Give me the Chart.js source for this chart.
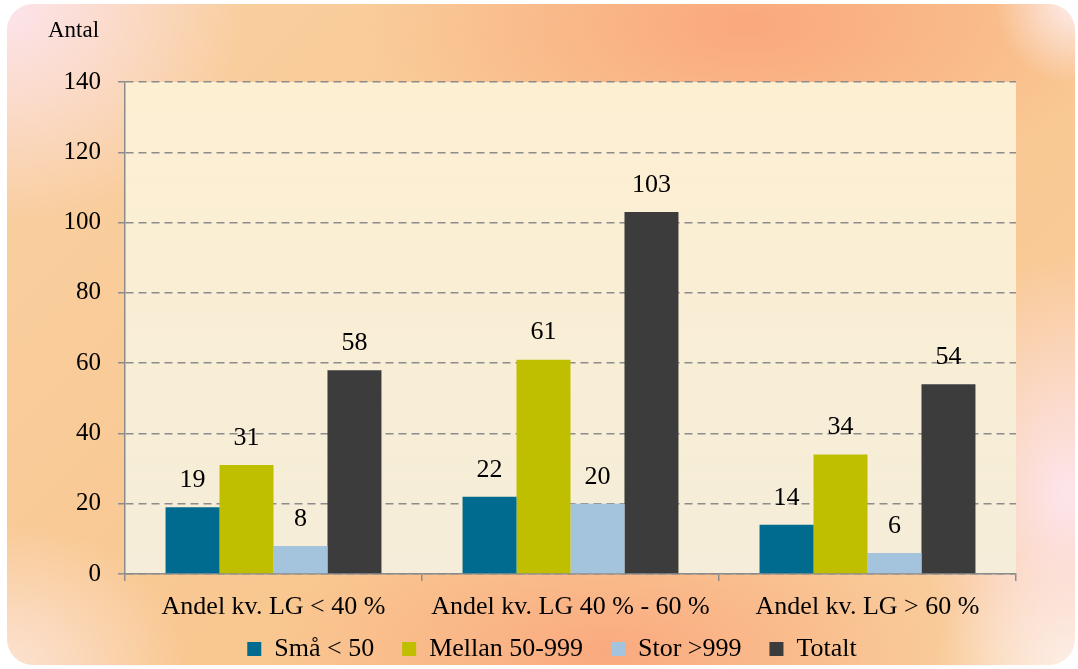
<!DOCTYPE html>
<html lang="sv">
<head>
  <meta charset="UTF-8">
  <title>Antal per andel kv. LG</title>
  <script src="https://cdn.jsdelivr.net/npm/chart.js"></script>
  <style>
    html, body { margin: 0; padding: 0; background: #fff; }
    body { width: 1078px; height: 669px; position: relative; overflow: hidden; }
    .card {
      position: absolute; left: 7px; top: 4px; width: 1068px; height: 661px;
      border-radius: 26px;
      background:
        radial-gradient(ellipse 150px 240px at 1060px 490px, rgba(253,230,240,0.95), rgba(253,230,240,0) 100%),
        radial-gradient(ellipse 80px 80px at 1068px 0px, rgba(253,236,236,1), rgba(253,236,236,0) 100%),
        radial-gradient(ellipse 140px 120px at 1068px 661px, rgba(253,243,228,1), rgba(253,243,228,0) 100%),
        radial-gradient(ellipse 240px 220px at 0px 0px, rgba(252,228,236,1), rgba(252,228,236,0) 100%),
        radial-gradient(ellipse 180px 140px at 0px 661px, rgba(252,226,210,1), rgba(252,226,210,0) 100%),
        radial-gradient(ellipse 380px 170px at 740px 20px, rgba(250,166,124,0.95), rgba(250,166,124,0) 100%),
        radial-gradient(ellipse 340px 150px at 600px 650px, rgba(250,168,126,0.95), rgba(250,168,126,0) 100%),
        linear-gradient(135deg, #f9d0a2 0%, #f9c790 50%, #f9cc9c 100%);
    }
    canvas { position: absolute; left: 0; top: 0; }
  </style>
</head>
<body>
  <div class="card"></div>
  <canvas id="chart" width="1078" height="669"></canvas>

  <script>
    const categories = ['Andel kv. LG < 40 %', 'Andel kv. LG 40 % - 60 %', 'Andel kv. LG > 60 %'];
    const seriesNames = ['Små < 50', 'Mellan 50-999', 'Stor >999', 'Totalt'];
    const smaValues = [19, 22, 14];
    const mellanValues = [31, 61, 34];
    const storValues = [8, 20, 6];
    const totaltValues = [58, 103, 54];
    const yTicks = [0, 20, 40, 60, 80, 100, 120, 140];
    const yTitle = 'Antal';

    const serif = 'Liberation Serif, Times New Roman, serif';
    const gridGrey = '#8c8c8c';

    // plot area fill, "Antal" label, legend nudged like the original
    const plotBackground = {
      id: 'plotBackground',
      afterLayout(chart) {
        if (chart.legend) {
          chart.legend.left += 44;
          chart.legend.right += 44;
          chart.legend.top += 3;
          chart.legend.bottom += 3;
        }
        // x labels sit below the short axis box, don't clip them
        chart.scales.x.bottom = chart.height;
      },
      beforeDraw(chart) {
        const { ctx, chartArea: a } = chart;
        const g = ctx.createLinearGradient(0, a.top, 0, a.bottom);
        g.addColorStop(0, '#fdefd2');
        g.addColorStop(1, '#f5edd9');
        ctx.save();
        ctx.fillStyle = g;
        ctx.fillRect(a.left, a.top, a.right - a.left, a.bottom - a.top);
        ctx.restore();
      },
      afterDraw(chart) {
        const { ctx, chartArea: a } = chart;
        ctx.save();
        ctx.font = '23px ' + serif;
        ctx.fillStyle = '#000';
        ctx.textAlign = 'left';
        ctx.textBaseline = 'middle';
        ctx.fillText(yTitle, a.left - 77, a.top - 51);
        ctx.restore();
      }
    };

    // value labels above bars
    const barLabels = {
      id: 'barLabels',
      afterDatasetsDraw(chart) {
        const { ctx } = chart;
        ctx.save();
        ctx.font = '26px ' + serif;
        ctx.fillStyle = '#000';
        ctx.textAlign = 'center';
        ctx.textBaseline = 'middle';
        chart.data.datasets.forEach((ds, i) => {
          chart.getDatasetMeta(i).data.forEach((bar, j) => {
            ctx.fillText(ds.data[j], bar.x, bar.y - 27);
          });
        });
        ctx.restore();
      }
    };

    const colors = ['#006b8f', '#bfbf00', '#a3c4dc', '#3c3c3c'];
    const values = [smaValues, mellanValues, storValues, totaltValues];

    new Chart(document.getElementById('chart'), {
      type: 'bar',
      data: {
        labels: categories,
        datasets: seriesNames.map((name, i) => ({
          label: name,
          data: values[i],
          backgroundColor: colors[i],
          borderWidth: 0,
          categoryPercentage: 0.727,
          barPercentage: 1
        }))
      },
      options: {
        responsive: false,
        animation: false,
        layout: { padding: { top: 82, right: 62, bottom: 0, left: 0 } },
        plugins: {
          legend: {
            position: 'bottom',
            labels: {
              font: { family: serif, size: 26 },
              color: '#000',
              boxWidth: 14,
              boxHeight: 14,
              padding: 28
            }
          },
          tooltip: { enabled: false }
        },
        scales: {
          x: {
            grid: {
              display: true,
              drawOnChartArea: false,
              tickLength: 7,
              color: gridGrey,
              lineWidth: 1.5
            },
            border: { display: true, color: gridGrey, width: 1.5 },
            ticks: {
              font: { family: serif, size: 26 },
              color: '#000',
              padding: 11
            },
            afterFit(scale) { scale.height = 31; }
          },
          y: {
            min: 0,
            max: 140,
            afterBuildTicks(scale) { scale.ticks = yTicks.map(v => ({ value: v })); },
            grid: {
              color: gridGrey,
              lineWidth: 1.5,
              tickLength: 7,
              drawTicks: true
            },
            border: { display: true, color: gridGrey, width: 1.5, dash: [8, 5] },
            ticks: {
              font: { family: serif, size: 25 },
              color: '#000',
              padding: 17
            },
            afterFit(scale) { scale.width = 125; }
          }
        }
      },
      plugins: [plotBackground, barLabels]
    });
  </script>
</body>
</html>
